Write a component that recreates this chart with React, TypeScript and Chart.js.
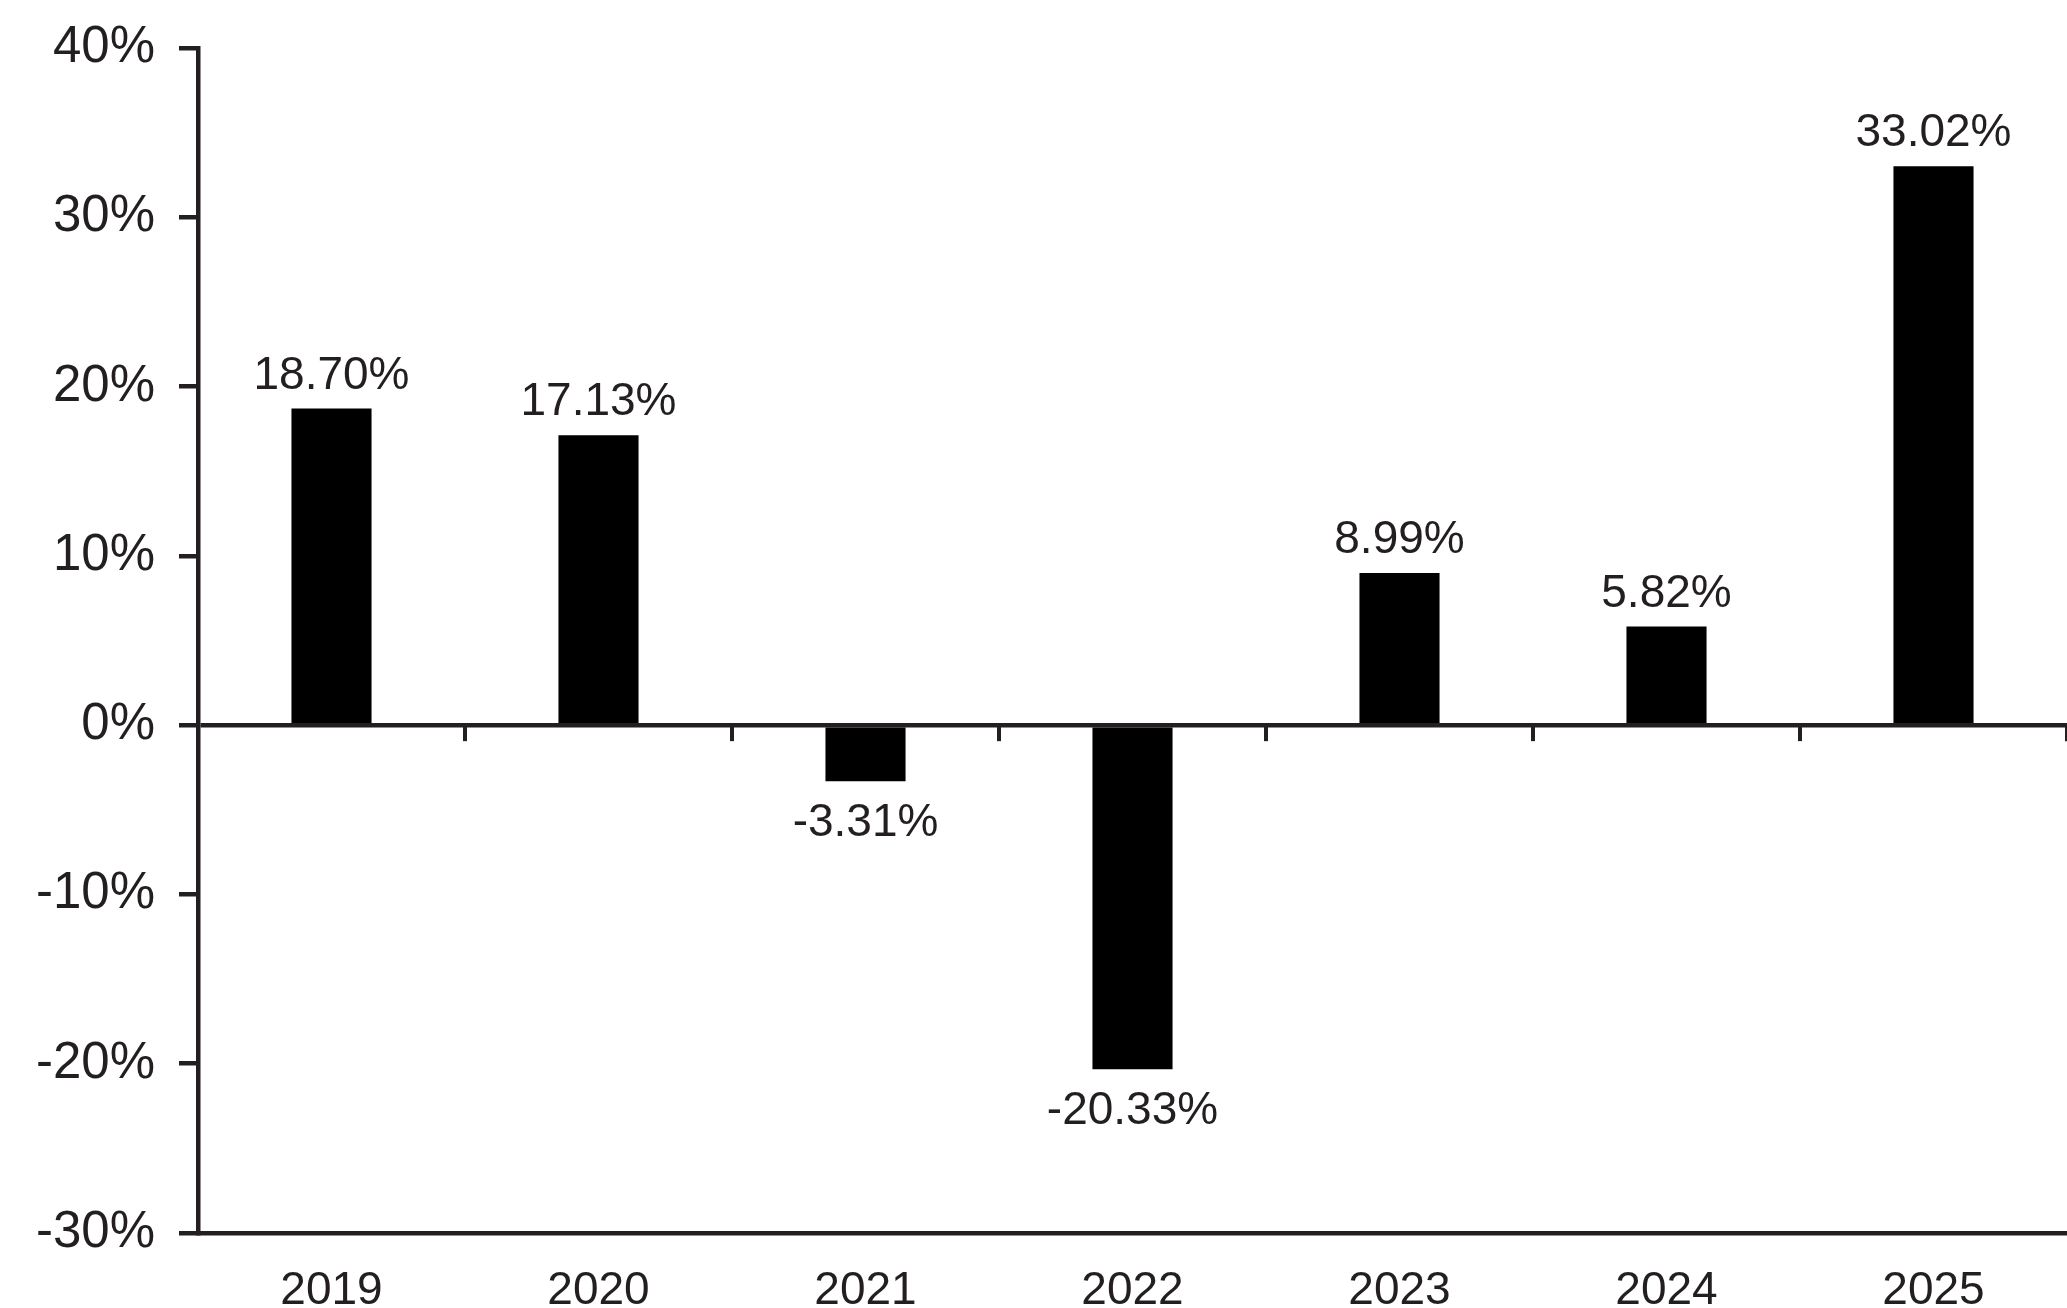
import React, { useEffect, useRef } from "react";
import { Chart, registerables } from "chart.js";

Chart.register(...registerables);

const categories = ["2019", "2020", "2021", "2022", "2023", "2024", "2025"];
const returns = [18.7, 17.13, -3.31, -20.33, 8.99, 5.82, 33.02];
const yMin = -30;
const yMax = 40;
const yStep = 10;

const INK = "#231f20";
const FONT = "'Liberation Sans', Arial, Helvetica, sans-serif";

const valueLabels = {
  id: "valueLabels",
  afterDatasetsDraw(chart: any) {
    const ctx = chart.ctx;
    const meta = chart.getDatasetMeta(0);
    ctx.save();
    ctx.font = `46px ${FONT}`;
    ctx.fillStyle = INK;
    ctx.textAlign = "center";
    ctx.textBaseline = "alphabetic";
    meta.data.forEach((bar: any, i: number) => {
      const v = returns[i];
      const label = v.toFixed(2) + "%";
      if (v >= 0) {
        ctx.fillText(label, bar.x, bar.y - 20);
      } else {
        ctx.fillText(label, bar.x, bar.y + 55);
      }
    });
    ctx.restore();
  },
};

const zeroTicks = {
  id: "zeroTicks",
  afterDraw(chart: any) {
    const ctx = chart.ctx;
    const x = chart.scales.x;
    const y = chart.scales.y;
    const y0 = y.getPixelForValue(0);
    const half = (x.getPixelForValue(1) - x.getPixelForValue(0)) / 2;
    ctx.save();
    ctx.strokeStyle = INK;
    ctx.lineWidth = 4;
    for (let i = 1; i <= categories.length; i++) {
      const px = x.getPixelForValue(i) - half;
      ctx.beginPath();
      ctx.moveTo(px, y0);
      ctx.lineTo(px, y0 + 16);
      ctx.stroke();
    }
    ctx.restore();
  },
};

export default function App() {
  const ref = useRef<HTMLCanvasElement | null>(null);

  useEffect(() => {
    document.body.style.margin = "0";
    const canvas = ref.current;
    if (!canvas) return;
    const chart = new Chart(canvas, {
      type: "bar",
      data: {
        labels: categories,
        datasets: [
          {
            data: returns,
            backgroundColor: "#000000",
            borderWidth: 0,
            barPercentage: 0.3,
            categoryPercentage: 1,
          },
        ],
      },
      options: {
        animation: false,
        responsive: false,
        devicePixelRatio: 1,
        layout: { padding: { top: 48, left: 0, right: 0, bottom: 0 } },
        plugins: {
          legend: { display: false },
          tooltip: { enabled: false },
        },
        scales: {
          x: {
            grid: { display: false },
            border: { display: true, color: INK, width: 4.5 },
            ticks: {
              color: INK,
              font: { family: FONT, size: 46 },
              padding: 23,
            },
            afterFit(scale: any) {
              scale.height = 75;
              scale.paddingLeft = 0;
              scale.paddingRight = 0;
            },
          },
          y: {
            min: yMin,
            max: yMax,
            ticks: {
              stepSize: yStep,
              color: INK,
              font: { family: FONT, size: 51 },
              padding: 24,
              callback: (v: any) => v + "%",
            },
            grid: {
              color: (c: any) => (c.tick && c.tick.value === 0 ? INK : "rgba(0,0,0,0)"),
              lineWidth: 4.5,
              tickColor: INK,
              tickLength: 19,
              tickWidth: 4.5,
            },
            border: { display: true, color: INK, width: 4.5 },
            afterFit(scale: any) {
              scale.width = 198;
              scale.paddingTop = 0;
              scale.paddingBottom = 0;
            },
          },
        },
      },
      plugins: [valueLabels, zeroTicks],
    });
    return () => chart.destroy();
  }, []);

  return <canvas ref={ref} width={2067} height={1308} style={{ display: "block" }} />;
}
